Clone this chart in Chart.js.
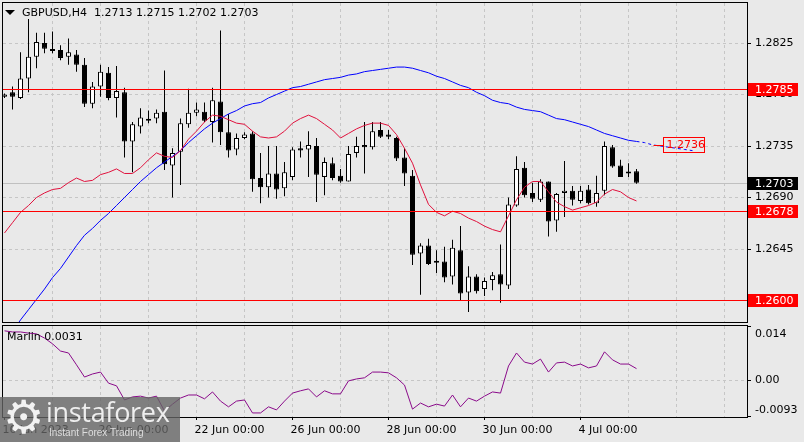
<!DOCTYPE html>
<html>
<head>
<meta charset="utf-8">
<script src="https://cdn.jsdelivr.net/npm/chart.js@4.4.0/dist/chart.umd.min.js"></script>
<style>
    html, body { margin: 0; padding: 0; background: #e9e9e9; }
    #wrap { position: relative; width: 804px; height: 442px; overflow: hidden; font-family: "DejaVu Sans", sans-serif; }
    #main { position: absolute; left: 0; top: 0; width: 804px; height: 323px; }
    #ind { position: absolute; left: 0; top: 323px; width: 804px; height: 119px; }
    .tri { position: absolute; left: 5px; top: 10px; width: 0; height: 0; border-left: 5px solid transparent; border-right: 5px solid transparent; border-top: 5px solid #000; }
    .title { position: absolute; left: 22px; top: 6px; font-size: 11px; line-height: 13px; color: #000; white-space: pre; }
    .legend { position: absolute; left: 7px; top: 330px; font-size: 11px; line-height: 13px; color: #000; white-space: pre; }
    .logo { position: absolute; left: 0; top: 397px; width: 180px; height: 45px; background: rgba(100, 100, 100, 0.8); color: #eee; }
    .logo .gear { position: absolute; left: 3px; top: -6px; font-size: 46px; line-height: 52px; font-family: "DejaVu Sans", sans-serif; color: #f2f2f2; }
    .logo .name { position: absolute; left: 46px; top: -2px; font-size: 27px; line-height: 34px; font-family: "Open Sans", sans-serif; letter-spacing: -0.3px; }
    .logo .slogan { position: absolute; left: 49px; top: 30px; font-size: 10px; line-height: 12px; font-family: "Liberation Sans", sans-serif; color: #ddd; }
</style>
</head>
<body>
<div id="wrap">
    <div id="main"><canvas id="mainChart"></canvas></div>
    <div id="ind"><canvas id="indChart"></canvas></div>
    <div class="tri"></div>
    <div class="title">GBPUSD,H4  1.2713 1.2715 1.2702 1.2703</div>
    <div class="legend">Marlin 0.0031</div>
    <div class="logo"><span class="gear">⚙</span><span class="name">instaforex</span><span class="slogan">Instant Forex Trading</span></div>
</div>
<script>
// H4 candles, 16 Jun 2023 00:00 .. 5 Jul 2023 04:00
const open = [1.2778, 1.2782, 1.2777, 1.2794, 1.2813, 1.2825, 1.2819, 1.2819, 1.2813, 1.2815,
    1.2806, 1.2772, 1.2787, 1.2799, 1.2777, 1.2782, 1.2739, 1.2752, 1.2758, 1.2759,
    1.2765, 1.2718, 1.2730, 1.2754, 1.2764, 1.2765, 1.2756, 1.2774, 1.2747, 1.2732,
    1.2742, 1.2746, 1.2707, 1.2699, 1.2711, 1.2698, 1.2708, 1.2733, 1.2732, 1.2735,
    1.2708, 1.2720, 1.2709, 1.2704, 1.2729, 1.2736, 1.2734, 1.2749, 1.2745, 1.2742,
    1.2725, 1.2709, 1.2641, 1.2648, 1.2634, 1.2634, 1.2621, 1.2644, 1.2607, 1.2621,
    1.2610, 1.2618, 1.2623, 1.2613, 1.2683, 1.2716, 1.2694, 1.2688, 1.2704, 1.2670,
    1.2694, 1.2696, 1.2687, 1.2697, 1.2685, 1.2696, 1.2734, 1.2718, 1.2711, 1.2713];
const high = [1.2781, 1.2787, 1.2817, 1.2846, 1.2834, 1.2834, 1.2835, 1.2823, 1.2829, 1.2819,
    1.2812, 1.2791, 1.2806, 1.2804, 1.2805, 1.2786, 1.2756, 1.2768, 1.2766, 1.2767,
    1.2801, 1.2733, 1.2759, 1.2785, 1.2773, 1.2773, 1.2786, 1.2836, 1.2763, 1.2746,
    1.2747, 1.2748, 1.2729, 1.2735, 1.2735, 1.2721, 1.2734, 1.2739, 1.2748, 1.2742,
    1.2725, 1.2725, 1.2715, 1.2735, 1.2743, 1.2756, 1.2756, 1.2756, 1.2749, 1.2743,
    1.2733, 1.2714, 1.2650, 1.2654, 1.2644, 1.2647, 1.2653, 1.2665, 1.2630, 1.2623,
    1.2620, 1.2625, 1.2649, 1.2690, 1.2726, 1.2721, 1.2703, 1.2706, 1.2704, 1.2694,
    1.2722, 1.2700, 1.2700, 1.2701, 1.2709, 1.2739, 1.2736, 1.2723, 1.2720, 1.2715];
const low = [1.2777, 1.2767, 1.2776, 1.2782, 1.2803, 1.2816, 1.2816, 1.2810, 1.2806, 1.2800,
    1.2769, 1.2768, 1.2778, 1.2775, 1.2760, 1.2725, 1.2712, 1.2746, 1.2755, 1.2755,
    1.2714, 1.2690, 1.2701, 1.2751, 1.2761, 1.2756, 1.2738, 1.2736, 1.2725, 1.2727,
    1.2741, 1.2695, 1.2685, 1.2690, 1.2689, 1.2691, 1.2705, 1.2725, 1.2708, 1.2686,
    1.2692, 1.2705, 1.2703, 1.2704, 1.2725, 1.2711, 1.2732, 1.2742, 1.2741, 1.2722,
    1.2700, 1.2631, 1.2605, 1.2631, 1.2624, 1.2616, 1.2614, 1.2600, 1.2590, 1.2606,
    1.2604, 1.2609, 1.2598, 1.2610, 1.2682, 1.2690, 1.2686, 1.2686, 1.2656, 1.2660,
    1.2673, 1.2683, 1.2685, 1.2684, 1.2682, 1.2692, 1.2716, 1.2708, 1.2708, 1.2702];
const close = [1.2780, 1.2778, 1.2794, 1.2813, 1.2826, 1.2820, 1.2818, 1.2812, 1.2817, 1.2806,
    1.2772, 1.2787, 1.2800, 1.2777, 1.2783, 1.2739, 1.2754, 1.2760, 1.2757, 1.2764,
    1.2719, 1.2729, 1.2755, 1.2764, 1.2767, 1.2757, 1.2775, 1.2747, 1.2731, 1.2742,
    1.2745, 1.2706, 1.2699, 1.2711, 1.2697, 1.2712, 1.2732, 1.2731, 1.2736, 1.2710,
    1.2721, 1.2707, 1.2704, 1.2728, 1.2735, 1.2734, 1.2748, 1.2743, 1.2743, 1.2724,
    1.2711, 1.2640, 1.2648, 1.2632, 1.2633, 1.2620, 1.2646, 1.2606, 1.2621, 1.2608,
    1.2617, 1.2622, 1.2614, 1.2684, 1.2715, 1.2692, 1.2689, 1.2704, 1.2669, 1.2693,
    1.2696, 1.2688, 1.2696, 1.2685, 1.2694, 1.2735, 1.2717, 1.2708, 1.2712, 1.2703];

const maFast = [1.2659, 1.2668, 1.2677, 1.2683, 1.2690, 1.2694, 1.2697, 1.2698, 1.2703, 1.2707,
    1.2704, 1.2705, 1.2710, 1.2712, 1.2715, 1.2711, 1.2711, 1.2716, 1.2723, 1.2729,
    1.2726, 1.2725, 1.2731, 1.2741, 1.2748, 1.2756, 1.2762, 1.2761, 1.2758, 1.2755,
    1.2754, 1.2748, 1.2743, 1.2742, 1.2743, 1.2748, 1.2755, 1.2759, 1.2762, 1.2759,
    1.2754, 1.2749, 1.2742, 1.2746, 1.2750, 1.2753, 1.2755, 1.2755, 1.2753, 1.2745,
    1.2733, 1.2720, 1.2701, 1.2684, 1.2677, 1.2674, 1.2678, 1.2676, 1.2672, 1.2669,
    1.2665, 1.2662, 1.2660, 1.2674, 1.2688, 1.2699, 1.2704, 1.2704, 1.2695, 1.2686,
    1.2682, 1.2679, 1.2681, 1.2683, 1.2686, 1.2693, 1.2697, 1.2695, 1.2690, 1.2687];
const maSlow = [1.2565, 1.2573, 1.2583, 1.2592, 1.2601, 1.2610, 1.2620, 1.2628, 1.2638, 1.2648,
    1.2657, 1.2663, 1.2670, 1.2676, 1.2683, 1.2690, 1.2697, 1.2704, 1.2710, 1.2716,
    1.2721, 1.2726, 1.2731, 1.2738, 1.2744, 1.2750, 1.2755, 1.2759, 1.2763, 1.2766,
    1.2770, 1.2772, 1.2773, 1.2777, 1.2780, 1.2783, 1.2786, 1.2787, 1.2789, 1.2791,
    1.2793, 1.2794, 1.2795, 1.2797, 1.2798, 1.2800, 1.2801, 1.2802, 1.2803, 1.2804,
    1.2804, 1.2803, 1.2801, 1.2799, 1.2796, 1.2794, 1.2791, 1.2788, 1.2786, 1.2782,
    1.2779, 1.2775, 1.2773, 1.2772, 1.2769, 1.2767, 1.2766, 1.2765, 1.2762, 1.2759,
    1.2758, 1.2756, 1.2754, 1.2752, 1.2749, 1.2746, 1.2744, 1.2742, 1.2740, 1.2739];
// dashed forward part of the slow line, bars 79..86
const maSlowFwd = [1.2739, 1.2738, 1.2736, 1.2735, 1.2734, 1.2733, 1.2732, 1.2731];
const maLabel = 1.2736;

const marlin = [0.0130, 0.0127, 0.0127, 0.0124, 0.0122, 0.0111, 0.0096, 0.0077, 0.0072, 0.0041,
    0.0009, 0.0017, 0.0022, -0.0007, -0.0014, -0.0051, -0.0043, -0.0041, -0.0046, -0.0041,
    -0.0080, -0.0062, -0.0046, -0.0038, -0.0038, -0.0048, -0.0030, -0.0054, -0.0069, -0.0054,
    -0.0051, -0.0085, -0.0085, -0.0069, -0.0077, -0.0054, -0.0033, -0.0027, -0.0022, -0.0043,
    -0.0027, -0.0035, -0.0035, -0.0001, 0.0004, 0.0007, 0.0022, 0.0022, 0.0020, 0.0007,
    -0.0012, -0.0075, -0.0059, -0.0069, -0.0062, -0.0067, -0.0038, -0.0069, -0.0046, -0.0054,
    -0.0041, -0.0030, -0.0033, 0.0038, 0.0072, 0.0048, 0.0043, 0.0056, 0.0022, 0.0046,
    0.0048, 0.0038, 0.0043, 0.0033, 0.0038, 0.0075, 0.0054, 0.0043, 0.0043, 0.0031];

const levels = [1.2785, 1.2678, 1.2600];
const bid = 1.2703;

const priceTicks = [1.2645, 1.2690, 1.2735, 1.2780, 1.2825];
const marlinTicks = [-0.0093, 0, 0.014];
const marlinTickLabels = ['-0.0093', '0.00', '0.014'];
const dayTicks = [0, 6, 12, 18, 24, 30, 36, 42, 48, 54, 60, 66, 72, 78, 84, 90];
const labelIdx = [0, 12, 24, 36, 48, 60, 72];
const timeLabels = ['16 Jun 2023', '20 Jun 00:00', '22 Jun 00:00', '26 Jun 00:00', '28 Jun 00:00', '30 Jun 00:00', '4 Jul 00:00'];

const BAR_PX = 8;
const X_MIN = -1.5 / BAR_PX;
const X_MAX = X_MIN + 744 / BAR_PX;
const gridColor = '#c6c6c6';

Chart.defaults.font.family = '"DejaVu Sans", sans-serif';
Chart.defaults.font.size = 11;
Chart.defaults.color = '#000';
Chart.defaults.animation = false;

function timeAxis(showLabels) {
    return {
        type: 'linear',
        min: X_MIN,
        max: X_MAX,
        offset: false,
        afterBuildTicks: function(s) { s.ticks = dayTicks.map(v => ({ value: v })); },
        afterFit: function(s) {
            s.height = showLabels ? 25 : 0;
            s.paddingLeft = 0;
            s.paddingRight = 0;
        },
        grid: {
            offset: false,
            color: c => (c.tick && c.tick.value === 0) ? 'transparent' : gridColor,
            drawTicks: showLabels,
            tickLength: 3,
            tickColor: c => (c.tick && labelIdx.includes(c.tick.value)) ? '#000' : 'transparent',
            tickBorderDash: []
        },
        border: { display: false, dash: [3, 3] },
        ticks: {
            display: showLabels,
            autoSkip: false,
            maxRotation: 0,
            align: 'start',
            labelOffset: -2,
            padding: 4,
            callback: function(v) {
                const k = labelIdx.indexOf(v);
                return k >= 0 ? timeLabels[k] : '';
            }
        }
    };
}

// keep the plot area where the layout padding puts it
function fixRightAxis(s) {
    s.width = 57;
    s.paddingTop = 0;
    s.paddingBottom = 0;
}

function crispY(scale, v) {
    return Math.round(scale.getPixelForValue(v)) + 0.5;
}

const framePlugin = {
    id: 'frame',
    afterDraw(chart) {
        const { ctx, chartArea: a } = chart;
        ctx.save();
        ctx.strokeStyle = '#000';
        ctx.lineWidth = 1;
        ctx.strokeRect(a.left - 0.5, a.top - 0.5, a.right - a.left + 1, a.bottom - a.top + 1);
        ctx.restore();
    }
};

const levelPlugin = {
    id: 'levels',
    beforeDatasetsDraw(chart) {
        const { ctx, chartArea: a, scales: { y } } = chart;
        ctx.save();
        ctx.strokeStyle = '#c0c0c0';
        ctx.lineWidth = 1;
        const py = crispY(y, bid);
        ctx.beginPath();
        ctx.moveTo(a.left, py);
        ctx.lineTo(a.right, py);
        ctx.stroke();
        ctx.restore();
    },
    afterDatasetsDraw(chart) {
        const { ctx, chartArea: a, scales: { x, y } } = chart;
        ctx.save();
        ctx.strokeStyle = '#ff0000';
        ctx.lineWidth = 1;
        levels.forEach(v => {
            const py = crispY(y, v);
            ctx.beginPath();
            ctx.moveTo(a.left, py);
            ctx.lineTo(a.right, py);
            ctx.stroke();
        });

        // label of the slow line
        const px = Math.round(x.getPixelForValue(81)) + 0.5;
        const py = crispY(y, maLabel);
        ctx.beginPath();
        ctx.moveTo(px, py);
        ctx.lineTo(px + 10, py);
        ctx.stroke();
        ctx.strokeRect(px + 10, py - 8, 41, 15);
        ctx.fillStyle = '#ff0000';
        ctx.font = '11px "DejaVu Sans", sans-serif';
        ctx.textBaseline = 'middle';
        ctx.fillText(maLabel.toFixed(4), px + 13, py);
        ctx.restore();
    },
    afterDraw(chart) {
        const { ctx, chartArea: a, scales: { y } } = chart;
        ctx.save();
        ctx.font = '11px "DejaVu Sans", sans-serif';
        ctx.textBaseline = 'middle';
        const boxes = levels.map(v => ({ v: v, bg: '#ff0000' }));
        boxes.push({ v: bid, bg: '#000000' });
        boxes.forEach(b => {
            const py = Math.round(y.getPixelForValue(b.v));
            ctx.fillStyle = b.bg;
            ctx.fillRect(a.right + 1, py - 6, 50, 13);
            ctx.fillStyle = '#ffffff';
            ctx.fillText(b.v.toFixed(4), a.right + 8, py + 1);
        });
        ctx.restore();
    }
};

const marlinAxisPlugin = {
    id: 'marlinAxis',
    afterDraw(chart) {
        const { ctx, chartArea: a, scales: { y } } = chart;
        ctx.save();
        ctx.font = '11px "DejaVu Sans", sans-serif';
        ctx.textBaseline = 'middle';
        ctx.fillStyle = '#000';
        const shift = [-6, 0, 7];
        marlinTicks.forEach((v, i) => {
            ctx.fillText(marlinTickLabels[i], a.right + 8, y.getPixelForValue(v) + shift[i]);
        });
        ctx.restore();
    }
};

function initializeMainChart() {
    const idx = open.map((_, i) => i);
    const bull = idx.map(i => close[i] >= open[i]);

    const ctx = document.getElementById('mainChart').getContext('2d');
    window.mainChart = new Chart(ctx, {
        type: 'bar',
        data: {
            datasets: [
                {
                    type: 'line', label: 'fast', order: 0,
                    data: idx.map(i => ({ x: i, y: maFast[i] })),
                    borderColor: '#e0103c', borderWidth: 1, pointRadius: 0, tension: 0
                },
                {
                    type: 'line', label: 'slow', order: 0,
                    data: idx.map(i => ({ x: i, y: maSlow[i] })),
                    borderColor: '#0000ff', borderWidth: 1, pointRadius: 0, tension: 0
                },
                {
                    type: 'line', label: 'slow fwd', order: 0,
                    data: maSlowFwd.map((v, k) => ({ x: 79 + k, y: v })),
                    borderColor: '#0000ff', borderWidth: 1, borderDash: [3, 3], pointRadius: 0, tension: 0
                },
                {
                    label: 'body', order: 1, grouped: false,
                    data: idx.map(i => ({ x: i, y: [open[i], close[i]] })),
                    backgroundColor: idx.map(i => bull[i] ? '#ffffff' : '#000000'),
                    borderColor: '#000000', borderWidth: 1, borderSkipped: false,
                    barThickness: 5, minBarLength: 2, inflateAmount: 0
                },
                {
                    label: 'wick', order: 2, grouped: false,
                    data: idx.map(i => ({ x: i, y: [low[i], high[i]] })),
                    backgroundColor: '#000000', borderWidth: 0,
                    barThickness: 1, inflateAmount: 0
                }
            ]
        },
        options: {
            responsive: true,
            maintainAspectRatio: false,
            layout: { padding: { left: 3, top: 3, right: 0, bottom: 1 } },
            plugins: { legend: { display: false }, tooltip: { enabled: false } },
            scales: {
                x: timeAxis(false),
                y: {
                    position: 'right',
                    min: 1.25812,
                    max: 1.28600,
                    beginAtZero: false,
                    afterBuildTicks: function(s) { s.ticks = priceTicks.map(v => ({ value: v })); },
                    afterFit: fixRightAxis,
                    grid: { color: gridColor, tickLength: 4, tickColor: '#000', tickBorderDash: [] },
                    border: { display: false, dash: [3, 3] },
                    ticks: { padding: 4, callback: v => v.toFixed(4) }
                }
            }
        },
        plugins: [levelPlugin, framePlugin]
    });
}

function initializeIndicatorChart() {
    const ctx = document.getElementById('indChart').getContext('2d');
    window.indChart = new Chart(ctx, {
        type: 'line',
        data: {
            datasets: [{
                label: 'Marlin',
                data: marlin.map((v, i) => ({ x: i, y: v })),
                borderColor: '#8a0a8a', borderWidth: 1, pointRadius: 0, tension: 0
            }]
        },
        options: {
            responsive: true,
            maintainAspectRatio: false,
            layout: { padding: { left: 3, top: 3, right: 0, bottom: 0 } },
            plugins: { legend: { display: false }, tooltip: { enabled: false } },
            scales: {
                x: timeAxis(true),
                y: {
                    position: 'right',
                    min: -0.00956,
                    max: 0.01426,
                    afterBuildTicks: function(s) { s.ticks = marlinTicks.map(v => ({ value: v })); },
                    afterFit: fixRightAxis,
                    grid: {
                        color: c => (c.tick && c.tick.value === 0) ? gridColor : 'transparent',
                        tickLength: 4, tickColor: '#000', tickBorderDash: []
                    },
                    border: { display: false, dash: [3, 3] },
                    ticks: { display: false }
                }
            }
        },
        plugins: [marlinAxisPlugin, framePlugin]
    });
}

document.addEventListener('DOMContentLoaded', function() {
    initializeMainChart();
    initializeIndicatorChart();
});
</script>
</body>
</html>
